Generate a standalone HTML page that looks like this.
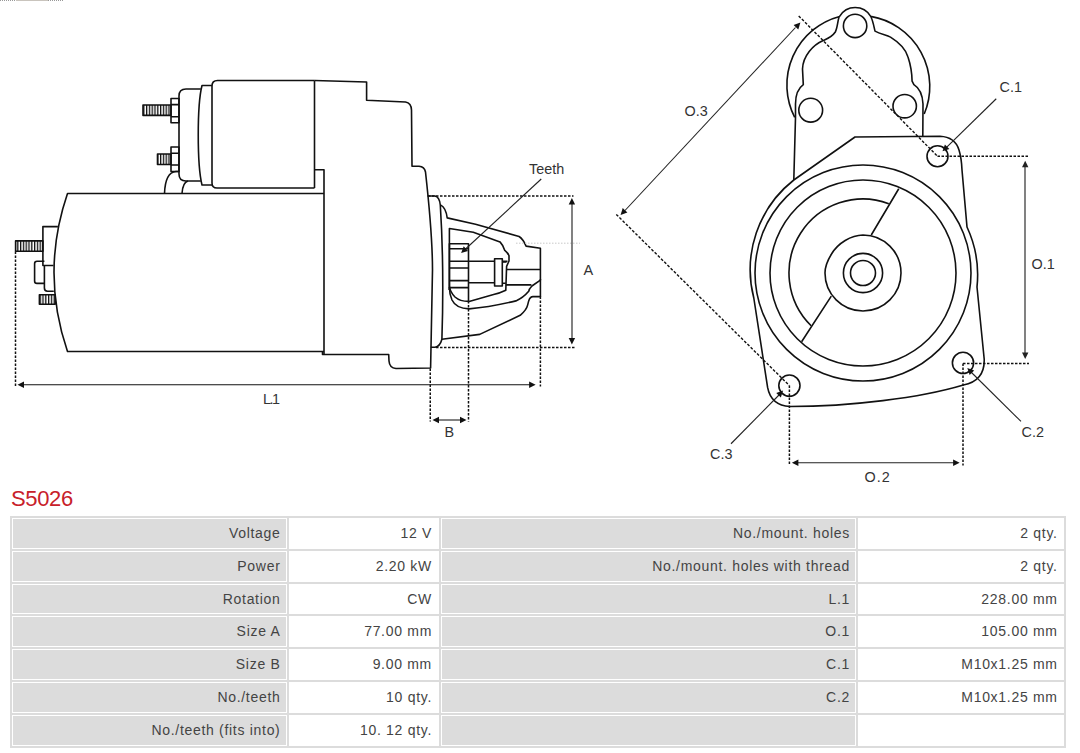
<!DOCTYPE html>
<html><head><meta charset="utf-8">
<style>
html,body{margin:0;padding:0;background:#fff;}
body{width:1080px;height:753px;position:relative;overflow:hidden;font-family:"Liberation Sans",sans-serif;}
#draw{position:absolute;left:0;top:0;}
h1{position:absolute;left:11px;top:485px;margin:0;font-weight:normal;font-size:22px;color:#c8202a;letter-spacing:-0.35px;line-height:28px;}
table{position:absolute;left:10px;top:516px;width:1055.7px;border-collapse:separate;border-spacing:2px;background:#dcdcdc;table-layout:fixed;}
td{border:1px solid #fff;padding:6px 6px 6px 5px;font-size:14px;letter-spacing:0.7px;line-height:16.8px;height:16.8px;text-align:right;color:#444;white-space:nowrap;background:#fff;}
td.l{background:#dcdcdc;padding-right:5px;}
tr td:last-child{padding-right:5px;}
</style></head><body>
<svg id="draw" width="1080" height="500" viewBox="0 0 1080 500">
<path d="M0 0.5 L16 0.5 M48 0.5 L64 0.5" stroke="#999" stroke-width="1" stroke-dasharray="1 1"/><path d="M16 0.5 L48 0.5" stroke="#c9c4bd" stroke-width="1"/>
<defs>
<pattern id="thr" patternUnits="userSpaceOnUse" width="2.8" height="20" x="0.4" y="0">
<rect x="0" y="0" width="1.3" height="20" fill="#111"/>
</pattern>
</defs>
<g fill="none" stroke="#111" stroke-width="1.6" stroke-linejoin="round">
<!-- solenoid -->
<path d="M314.5 188 L217 188 Q212 188 212 183 L212 86 Q212 80.5 217.5 80.5 L314.5 80.5"/>
<path d="M314.5 80.5 L314.5 188"/>
<path d="M212 85.5 L202 85.5 C197 105 197 165 202 185 L212 185"/>
<path d="M200.8 89 L186 89 Q179 89 179 96 L179 174 Q179 181 186 181 L200.8 181"/>
<rect x="171" y="98.5" width="8" height="24.3"/>
<path d="M171 104.6 L179 104.6 M171 116.7 L179 116.7"/>
<rect x="143" y="105" width="28" height="10.4" fill="url(#thr)"/>
<rect x="171" y="147" width="8" height="24.5"/>
<path d="M171 153.3 L179 153.3 M171 165 L179 165"/>
<rect x="157.5" y="154" width="13.5" height="10.5" fill="url(#thr)"/>
<path d="M164.5 193.5 C165 180 169 172 176 171.5 L179 171.5"/>
<path d="M182 193.5 C182.5 186 184 182 188 181"/>
<!-- rear housing -->
<path d="M314.5 80.5 L366.6 82 L366.6 100.3 L405.5 102 Q411.3 103 411.5 110 L412 166.3 L419 166.3 Q424.5 166.8 425.5 172 Q432.5 235 432.5 270 L430.6 368 L396 368.5 Q389.5 368 389 361 L388.7 354.5 L322.5 354.5 L322.5 351.5"/>
<path d="M314.5 169.7 L324 169.7 L324 354.5"/>
<!-- motor -->
<path d="M324 193.5 L67.5 193.5 Q40.5 272.5 67.5 351.5 L324 351.5"/>
<!-- rear end plate -->
<path d="M57.9 226.6 L42.9 226.6 L42.9 265.5 L53.5 265.5"/>
<path d="M44.4 265.5 L44.4 288 Q44.4 291.2 47.5 291.2 L53.8 291.2"/>
<path d="M44.4 261.3 L37 261.3 Q34.6 261.3 34.6 263.7 L34.6 281 Q34.6 283.4 37 283.4 L44.4 283.4"/>
<rect x="15.6" y="240.9" width="27.3" height="10.4" fill="url(#thr)"/>
<rect x="39.4" y="294.8" width="15.8" height="9.5" fill="url(#thr)"/>
<!-- drive end flange -->
<path d="M427.5 196 L435 196 Q439.5 197 440.3 205 C442.5 240 444 275 441.9 339.2 Q440 346.5 435 347.2 L430.8 347.2"/>
<path d="M440.9 205.1 Q446 208 447.2 217.9 L475.5 224.3 L519.1 236.5 Q523 239 526.1 246.1 L540.4 248.2 L540.4 280.1 L531.9 286 Q529 289 528.7 291.3 Q523 298 515.9 300.9 Q490 307 469.1 308.9 Q456 308.5 452 300 Q449.4 294 449.4 287"/>
<path d="M449.4 290 L449.4 228.5 L473.3 232.3 L500 241.9 Q503 245 504.8 250.4 Q508 253 509 255.7 L509 261 L506.6 266.4 L505.8 290.2 Q500 293 493.6 294.5 L469.1 301.4 Q460 301.5 455 297 Q450 292 449.4 286"/>
<path d="M441.9 339.2 L479.7 334.4 L520.2 315.3 Q526.5 310 527.6 305.1 L528.7 300.9 Q530 296.6 533 296.6 L540.4 296.6"/>
<path d="M449.4 290 L449.4 243.8 L468.5 243.8 L468.5 301.4"/>
<path d="M449.4 248.8 L468.5 248.8 M449.4 261.2 L468.5 261.2 M449.4 268 L468.5 268 M449.4 280.6 L468.5 280.6 M449.4 287.6 L468.5 287.6"/>
<path d="M468.5 261.2 L494.6 261.2 M502.3 261.2 L507.5 261.2 M468.5 282.8 L494.6 282.8 M502.3 283.3 L505.8 283.3 M505.8 284.9 L531.4 284.9 M506.9 269.5 L540.4 269.5"/>
<rect x="494.6" y="258.7" width="7.7" height="27.3"/>
<path d="M540.4 279 L540.4 297"/>
<path d="M502.3 262 L506.6 262"/>

<!-- top housing -->
<path d="M794.7 117.4 A71 71 0 0 1 839.6 16.4 A18 18 0 0 1 870.7 16.4 A71 71 0 0 1 924.2 114"/>
<path d="M839 17 C837.5 22 837.5 28 835.3 32 C832 37 827 39 823.2 40.6 C813 45 803 56 802.5 69 L803.3 84.6 C798.5 88 795.5 94 795.5 104 L795.5 117.4 L793.8 180"/>
<path d="M871 17 C873 21 874 27 875 31.1 C880 34 886 35 890.5 37.1 C900 43 906 50 908 57 C911 66 912 75 912.1 81.2 L913.9 84.6 C919.5 88 922.5 94 923 104 L922.8 136.3"/>
<circle cx="855.1" cy="25.9" r="11.7"/>
<circle cx="810.7" cy="110.2" r="11.9"/>
<circle cx="904.7" cy="106.2" r="11.7"/>
<!-- flange -->
<path d="M793.8 180 L855 137 L940 136.3 Q955 137 959 150 Q961.5 158 962 170 L967 227 A114 114 0 0 1 977 287 L984.2 359 Q985 381 963.4 385 C920 398 850 406.5 790 406.5 Q771 405.5 767.6 387.4 L753.8 298 A114 114 0 0 1 793.8 180"/>
<circle cx="937.5" cy="156.25" r="10.5"/>
<circle cx="963" cy="362.9" r="10.6"/>
<circle cx="789.4" cy="385.6" r="10.6"/>
<!-- rings -->
<circle cx="863" cy="273" r="108"/>
<circle cx="863" cy="273" r="93"/>
<path d="M863 235 C851 235.2 838 243 831.5 254 C826.5 262 825 268 825 273 A38 38 0 0 0 863 311 A38 38 0 0 0 901 273 A38 38 0 0 0 863 235 Z"/>
<circle cx="863" cy="273" r="19.6"/>
<circle cx="863" cy="273" r="12.5"/>
<path d="M888.79 203.64 A74 74 0 0 0 811.13 325.78"/>
<path d="M898.75 188.75 L871.25 235 M831.3 296.1 L801.6 341.7"/>

</g>
<g stroke="#111" stroke-width="1.5" stroke-dasharray="2.5 1.5" fill="none">
<path d="M15.5 251.5 L15.5 387"/>
<path d="M428 195.9 L573.5 195.9"/>
<path d="M436 347.5 L575.5 347.5"/>
<path d="M430.25 368.5 L430.25 421.5"/>
<path d="M468.5 301 L468.5 421.5"/>
<path d="M540.4 296.6 L540.4 386.5"/>
<path d="M937.5 156.25 L1028.8 156.25"/>
<path d="M789.4 385.6 L789.4 465.5"/>
<path d="M798.7 15.9 L937.5 156.25 M616.25 214.4 L789.4 385.6" stroke-dasharray="2.8 1.7" stroke-width="1.4"/>
<path d="M963 363.5 L1029 363.5 M963 363.5 L963 465.5"/>
</g>
<path d="M516 243.2 L580 243.2" stroke="#c8c8c8" stroke-width="1" stroke-dasharray="1.5 1.5" fill="none"/>
<g stroke="#111" stroke-width="1.05" fill="none">
<path d="M22 384.75 L531 384.75"/>
<path d="M438 420 L461 420"/>
<path d="M572 204 L572 339"/>
<path d="M1025 166 L1025 354"/>
</g>
<g stroke="#222" stroke-width="1.1" fill="none">
<path d="M541.25 179 L465 249.5"/>
<path d="M795.5 27.5 L625 210.5"/>
<path d="M996.25 98.75 L946 147.8"/>
<path d="M797 462.7 L955 462.7"/>
<path d="M1021 421.4 L971 372"/>
<path d="M731 443.75 L779 395"/>
</g>

<polygon fill="#111" stroke="none" points="17.50,384.75 24.00,381.55 24.00,387.95"/>
<polygon fill="#111" stroke="none" points="535.60,384.75 529.10,387.95 529.10,381.55"/>
<polygon fill="#111" stroke="none" points="432.50,420.00 439.00,416.80 439.00,423.20"/>
<polygon fill="#111" stroke="none" points="466.50,420.00 460.00,423.20 460.00,416.80"/>
<polygon fill="#111" stroke="none" points="571.90,198.10 575.10,204.60 568.70,204.60"/>
<polygon fill="#111" stroke="none" points="571.90,344.40 568.70,337.90 575.10,337.90"/>
<polygon fill="#222" stroke="none" points="1025.20,160.80 1028.40,167.30 1022.00,167.30"/>
<polygon fill="#222" stroke="none" points="1025.20,359.00 1022.00,352.50 1028.40,352.50"/>
<polygon fill="#111" stroke="none" points="461.10,253.00 463.71,246.24 468.05,250.94"/>
<polygon fill="#111" stroke="none" points="800.40,22.50 798.30,29.43 793.62,25.07"/>
<polygon fill="#111" stroke="none" points="620.60,215.00 622.70,208.07 627.38,212.43"/>
<polygon fill="#111" stroke="none" points="942.50,151.25 944.91,144.42 949.39,149.00"/>
<polygon fill="#111" stroke="none" points="791.90,462.70 798.40,459.50 798.40,465.90"/>
<polygon fill="#111" stroke="none" points="959.60,462.70 953.10,465.90 953.10,459.50"/>
<polygon fill="#111" stroke="none" points="967.30,368.10 974.17,370.41 969.66,374.95"/>
<polygon fill="#111" stroke="none" points="783.10,390.60 780.84,397.48 776.26,393.00"/>
<g font-family="'Liberation Sans', sans-serif" font-size="14.4" fill="#333" stroke="none">
<text x="529" y="173.8">Teeth</text>
<text x="583.5" y="274.6" font-size="14.5">A</text>
<text x="263" y="403.9" letter-spacing="-1.5">L.1</text>
<text x="444.5" y="437.3">B</text>
<text x="684.5" y="115.5">O.3</text>
<text x="999.5" y="91.7">C.1</text>
<text x="1031.5" y="269">O.1</text>
<text x="864.5" y="482.3" letter-spacing="1">O.2</text>
<text x="1021.5" y="437.3">C.2</text>
<text x="710" y="459.4">C.3</text>
</g>

</svg>
<h1>S5026</h1>
<table>
<colgroup><col style="width:274.5px"><col style="width:150.5px"><col style="width:415px"><col style="width:205.7px"></colgroup>
<tr><td class="l">Voltage</td><td>12 V</td><td class="l">No./mount. holes</td><td>2 qty.</td></tr>
<tr><td class="l">Power</td><td>2.20 kW</td><td class="l">No./mount. holes with thread</td><td>2 qty.</td></tr>
<tr><td class="l">Rotation</td><td>CW</td><td class="l">L.1</td><td>228.00 mm</td></tr>
<tr><td class="l">Size A</td><td>77.00 mm</td><td class="l">O.1</td><td>105.00 mm</td></tr>
<tr><td class="l">Size B</td><td>9.00 mm</td><td class="l">C.1</td><td>M10x1.25 mm</td></tr>
<tr><td class="l">No./teeth</td><td>10 qty.</td><td class="l">C.2</td><td>M10x1.25 mm</td></tr>
<tr><td class="l">No./teeth (fits into)</td><td>10. 12 qty.</td><td class="l"></td><td></td></tr>
</table>
</body></html>
